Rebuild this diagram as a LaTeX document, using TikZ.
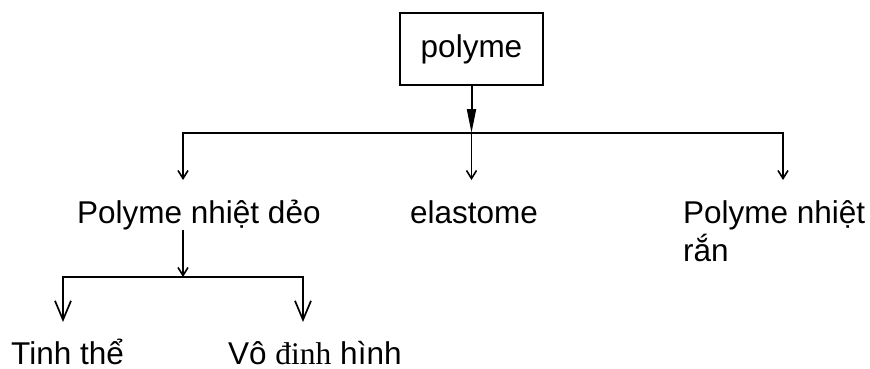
\documentclass[tikz,border=0pt]{standalone}
\usepackage{fontspec}
\setmainfont{Liberation Sans}
\newfontfamily\serifvn{Liberation Serif}
\usetikzlibrary{arrows.meta}
\begin{document}
\begin{tikzpicture}[x=1pt,y=-1pt,
  lbl/.style={anchor=base west, inner sep=0pt, font=\fontsize{31.5}{38}\selectfont, align=left},
  ln/.style={line width=1.5pt, line cap=rect},
  topbox/.style={draw, line width=1.3pt, minimum width=143pt, minimum height=72pt, inner sep=0pt, font=\fontsize{31.5}{38}\selectfont},
  bigtip/.style={line width=2pt, -{Triangle[length=24pt,width=9pt]}},
  smalltip/.style={line width=1.6pt, -{Straight Barb[length=8pt,width=10pt,line width=1.6pt]}},
  lowtip/.style={line width=1.7pt, -{Straight Barb[length=19pt,width=16pt,line width=1.7pt]}}]
\useasboundingbox (0,0) rectangle (870,369);
% nodes
\node[topbox] (top) at (471.5,49) {polyme};
\node[lbl] (pnd) at (77,223) {Polyme nhiệt dẻo};
\node[lbl] (ela) at (410,223) {elastome};
\node[lbl] (pnr) at (683,261) {Polyme nhiệt\\rắn};
\node[lbl] (tt) at (11,364) {Tinh thể};
\node[lbl] (vdh) at (228,364) {Vô {\serifvn đinh} hình};
% junction coordinates
\coordinate (j1) at (471.5,133);
\coordinate (j1l) at (183,133);
\coordinate (j1r) at (783,133);
\coordinate (e1l) at (183,180);
\coordinate (e1m) at (471.5,180);
\coordinate (e1r) at (783,180);
\coordinate (j2) at (183,277);
\coordinate (j2l) at (63,277);
\coordinate (j2r) at (303,277);
\coordinate (e2l) at (63,322);
\coordinate (e2r) at (303,322);
% connectors
\draw[bigtip] (top.south) -- (j1);
\draw[ln] (j1l) -- (j1r);
\draw[smalltip] (j1l) -- (e1l);
\draw[smalltip] (j1) -- (e1m);
\draw[smalltip] (j1r) -- (e1r);
\draw[smalltip] (j2 |- pnd.south) -- (j2);
\draw[ln] (j2l) -- (j2r);
\draw[lowtip] (j2l) -- (e2l);
\draw[lowtip] (j2r) -- (e2r);
\end{tikzpicture}
\end{document}
